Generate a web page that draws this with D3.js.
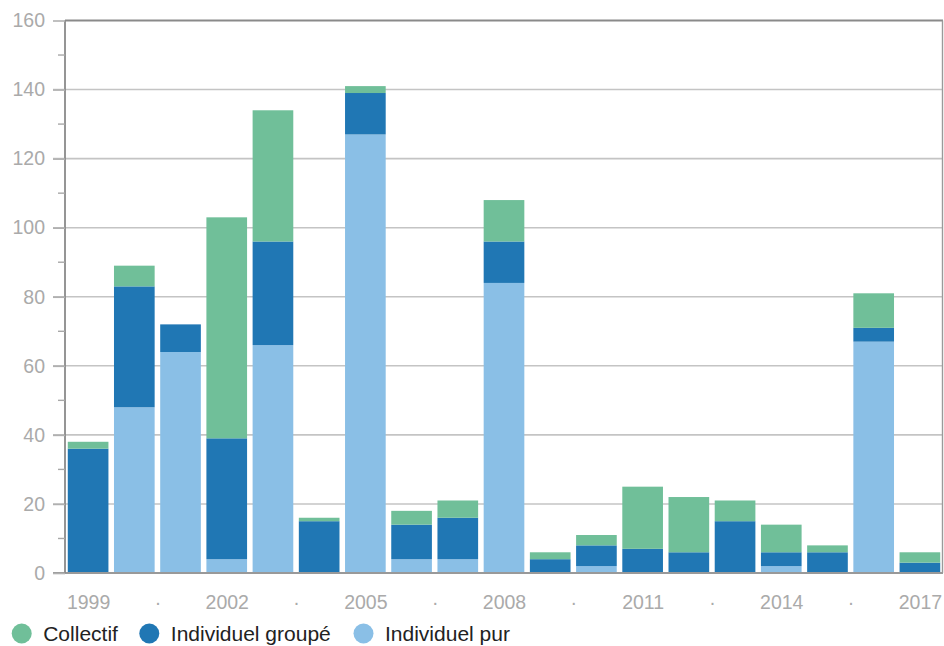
<!DOCTYPE html>
<html><head><meta charset="utf-8">
<script src="https://cdn.jsdelivr.net/npm/d3@7"></script>
<style>
html,body{margin:0;padding:0;background:#fff;}
svg{display:block;font-family:"Liberation Sans",Arial,sans-serif;}
</style></head>
<body>
<svg id="c" width="944" height="646"></svg>
<script>
const years = ["1999","2000","2001","2002","2003","2004","2005","2006","2007","2008","2009","2010","2011","2012","2013","2014","2015","2016","2017"];
const individuelPur = [0,48,64,4,66,0,127,4,4,84,0,2,0,0,0,2,0,67,0];
const individuelGroupe = [36,35,8,35,30,15,12,10,12,12,4,6,7,6,15,4,6,4,3];
const collectif = [2,6,0,64,38,1,2,4,5,12,2,3,18,16,6,8,2,10,3];
const seriesNames = ["Individuel pur","Individuel groupé","Collectif"];
const legendOrder = ["Collectif","Individuel groupé","Individuel pur"];
const colors = {"Collectif":"#70bf99","Individuel groupé":"#2077b4","Individuel pur":"#8abfe6"};
const yTicks = [0,20,40,60,80,100,120,140,160];
const yMinorTicks = [10,30,50,70,90,110,130,150];
const xTickPos = [0,1.5,3,4.5,6,7.5,9,10.5,12,13.5,15,16.5,18];
const xTickLabels = ["1999","·","2002","·","2005","·","2008","·","2011","·","2014","·","2017"];

const svg = d3.select("#c");
const L = 65, R = 943, T = 20.5, B = 573;

const rows = years.map((y,i)=>({year:y,"Individuel pur":individuelPur[i],"Individuel groupé":individuelGroupe[i],"Collectif":collectif[i]}));
const stack = d3.stack().keys(seriesNames)(rows);

const x = d3.scaleBand().domain(years).range([L,R]).paddingInner(0.12).paddingOuter(0.06);
const xi = d3.scaleLinear().domain([-0.5, years.length-0.5]).range([L,R]);
const y = d3.scaleLinear().domain([0,160]).range([B,T]);

// gridlines
svg.append("g").selectAll("line").data(yTicks.filter(d=>d>0 && d<160)).join("line")
  .attr("x1",53).attr("x2",R).attr("y1",d=>y(d)).attr("y2",d=>y(d))
  .attr("stroke","#c4c4c4").attr("stroke-width",1.6);

// bars
svg.append("g").selectAll("g").data(stack).join("g")
  .attr("fill",d=>colors[d.key])
  .selectAll("rect").data(d=>d).join("rect")
  .attr("x",d=>x(d.data.year)).attr("width",x.bandwidth())
  .attr("y",d=>y(d[1])).attr("height",d=>Math.max(0,y(d[0])-y(d[1])));

// frame
svg.append("line").attr("x1",L).attr("x2",R).attr("y1",T).attr("y2",T).attr("stroke","#8a8a8a").attr("stroke-width",1.8);
svg.append("line").attr("x1",R-0.5).attr("x2",R-0.5).attr("y1",T).attr("y2",B).attr("stroke","#9a9a9a").attr("stroke-width",1.4);
svg.append("line").attr("x1",53).attr("x2",R).attr("y1",B).attr("y2",B).attr("stroke","#999").attr("stroke-width",1.8);
svg.append("line").attr("x1",L).attr("x2",L).attr("y1",T).attr("y2",B).attr("stroke","#8a8a8a").attr("stroke-width",1.8);

// y axis ticks
const yAxis = d3.axisLeft(y).tickValues(yTicks).tickSize(12).tickPadding(8);
const ga = svg.append("g").attr("transform",`translate(${L},0)`).call(yAxis);
ga.select(".domain").remove();
ga.selectAll(".tick line").attr("stroke","#b0b0b0").attr("stroke-width",1.6);
ga.selectAll(".tick text").attr("fill","#aaa").attr("font-size",19.5).attr("font-family","Liberation Sans, Arial, sans-serif");
svg.append("g").selectAll("line").data(yMinorTicks).join("line")
  .attr("x1",58).attr("x2",L).attr("y1",d=>y(d)).attr("y2",d=>y(d))
  .attr("stroke","#a8a8a8").attr("stroke-width",1.4);

// x axis labels
const xAxis = d3.axisBottom(xi).tickValues(xTickPos).tickSize(0).tickPadding(22)
  .tickFormat((d,i)=>xTickLabels[i]);
const gx = svg.append("g").attr("transform",`translate(0,${B})`).call(xAxis);
gx.select(".domain").remove();
gx.selectAll(".tick text").attr("fill","#aaa").attr("font-size",19.5).attr("font-family","Liberation Sans, Arial, sans-serif");

// legend
const legX = [21.7,149.3,363.5];
const lg = svg.append("g").selectAll("g").data(legendOrder).join("g")
  .attr("transform",(d,i)=>`translate(${legX[i]},633.5)`);
lg.append("circle").attr("r",10).attr("fill",d=>colors[d]);
lg.append("text").attr("x",21.5).attr("y",7.2).attr("font-size",21).attr("fill","#222").text(d=>d);
</script>
</body></html>
